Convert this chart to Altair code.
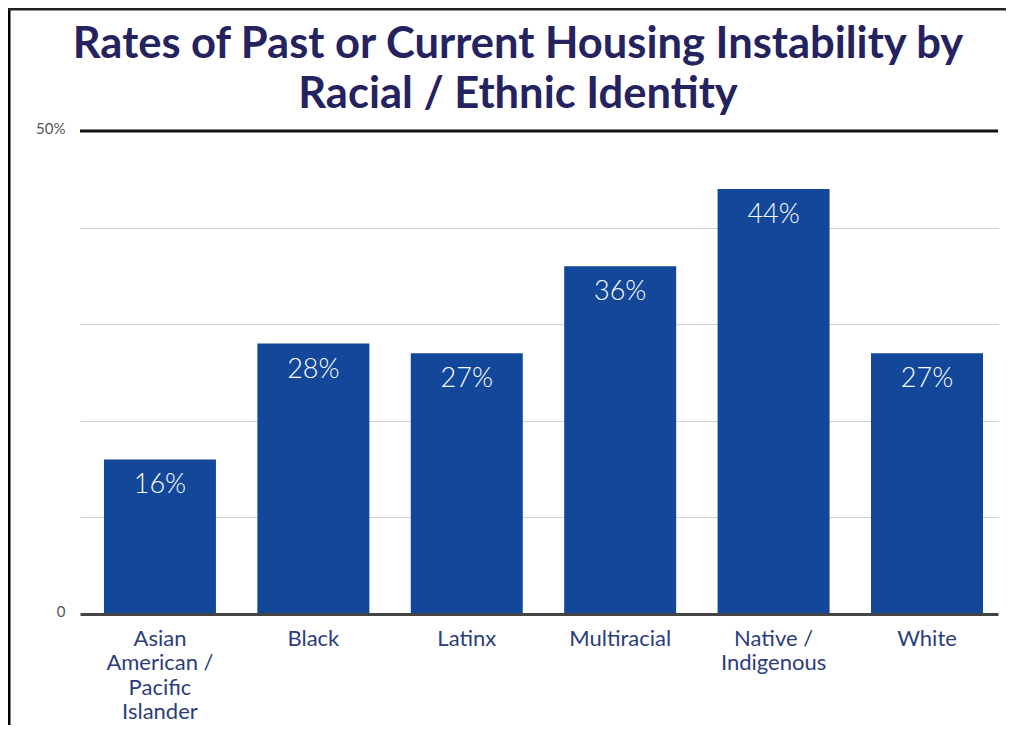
import altair as alt
import pandas as pd

categories = ["Asian\nAmerican /\nPacific\nIslander", "Black", "Latinx", "Multiracial", "Native /\nIndigenous", "White"]
values = [16, 28, 27, 36, 44, 27]
labels = ["16%", "28%", "27%", "36%", "44%", "27%"]
title_lines = ["Rates of Past or Current Housing Instability by", "Racial / Ethnic Identity"]
y_ticks = [0, 10, 20, 30, 40, 50]

df = pd.DataFrame({"group": categories, "value": values, "label": labels})
one = alt.Data(values=[{"k": 1}])

BAR = "#12479a"
NAVY = "#25235f"
LABEL = "#2c3d7c"

x_scale = alt.Scale(paddingInner=0.27, paddingOuter=0.127, align=0.615)

x_enc = alt.X(
    "group:N", sort=categories, scale=x_scale,
    axis=alt.Axis(title=None, labelAngle=0, labelExpr="split(datum.label, '\\n')",
                  labelFont="Lato", labelFontSize=22, labelColor=LABEL,
                  labelLineHeight=24.5, labelPadding=14, ticks=False,
                  domainColor="#444444", domainWidth=3, grid=False,
                  labelBaseline="top", zindex=1),
)
y_enc = alt.Y(
    "value:Q",
    scale=alt.Scale(domain=[0, 50], nice=False),
    axis=alt.Axis(title=None, values=y_ticks,
                  labelExpr="datum.value == 50 ? '50%' : (datum.value == 0 ? '0' : '')",
                  domain=False, ticks=False, grid=True, gridColor="#d0d0d0", gridWidth=1,
                  labelFont="Lato", labelFontSize=15, labelColor="#555555",
                  labelPadding=15, labelOffset=-3),
)

bars = alt.Chart(df).mark_bar(color=BAR).encode(x=x_enc, y=y_enc)

texts = alt.Chart(df).mark_text(
    color="white", font="Lato", fontSize=27, fontWeight=300,
    baseline="alphabetic", dy=34,
).encode(x=alt.X("group:N", sort=categories, scale=x_scale), y="value:Q", text="label:N")

top_rule = alt.Chart(one).mark_rule(color="#111111", strokeWidth=3).encode(y=alt.datum(50))

frame_left = alt.Chart(one).mark_rule(color="#000000", strokeWidth=3).encode(
    x=alt.value(-71), y=alt.value(-123), y2=alt.value(602))
frame_top = alt.Chart(one).mark_rule(color="#222222", strokeWidth=3).encode(
    x=alt.value(-72), x2=alt.value(926), y=alt.value(-122))

title = alt.Chart(one).mark_text(
    font="Lato", fontSize=43.5, fontWeight="bold", color=NAVY,
    align="center", baseline="alphabetic", lineHeight=50,
).encode(x=alt.value(438), y=alt.value(-73), text=alt.value(title_lines))

chart = alt.layer(bars, texts, top_rule, frame_left, frame_top, title).properties(
    width=918, height=483,
    autosize=alt.AutoSizeParams(type="none"),
    padding={"left": 72, "top": 123, "right": 8, "bottom": 111},
).configure_view(stroke=None)

chart.save("out.html", embed_options={"renderer": "svg", "actions": False})
